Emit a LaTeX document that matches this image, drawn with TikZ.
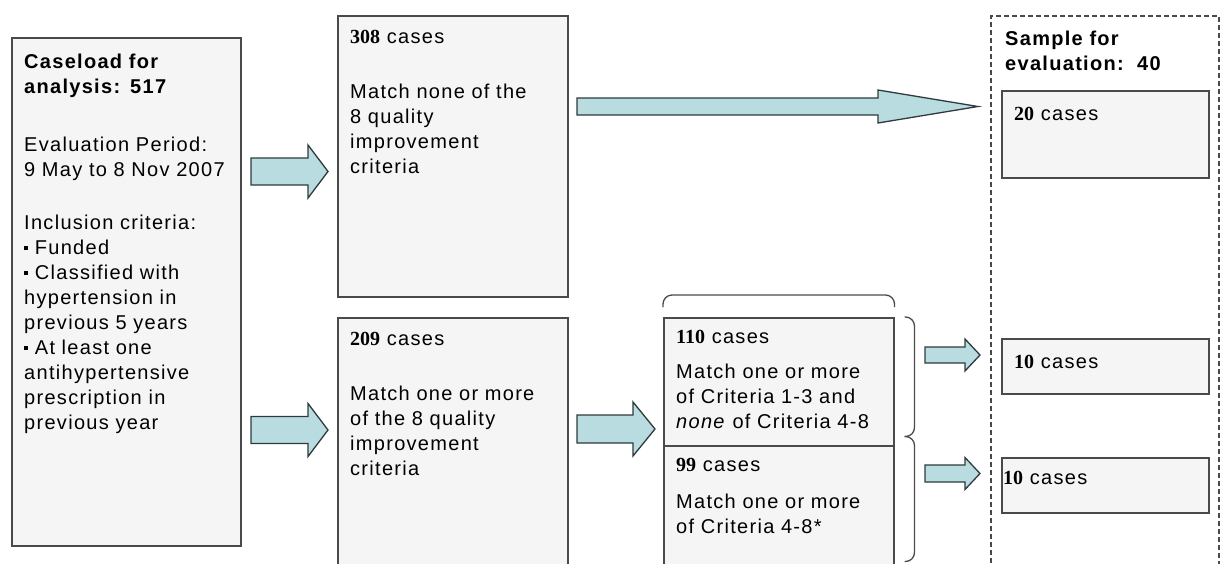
\documentclass[tikz,border=0pt]{standalone}
\usepackage{fontspec}
\setmainfont{Liberation Sans}[LetterSpace=6.5]
\newfontfamily\numfont{Liberation Serif}
\usetikzlibrary{calc}
\definecolor{boxfill}{HTML}{F5F5F5}
\definecolor{boxline}{HTML}{4A4A4A}
\definecolor{arrowfill}{HTML}{B8DCE0}
\definecolor{arrowline}{HTML}{2E3A3C}
\newcommand{\cnt}[1]{{\numfont\bfseries #1}}
\newcommand{\sq}{\raisebox{4pt}{\rule{4pt}{4pt}}\ }

\begin{document}
\begin{tikzpicture}[x=1pt,y=-1pt,font=\fontsize{20}{25}\selectfont,
    fat/.style n args={3}{draw=arrowline,fill=arrowfill,line width=1.3pt,
      to path={let \p1=(\tikztostart),\p2=(\tikztotarget) in
        (\x1,{\y1+#1pt}) -- ({\x2-#3pt},{\y1+#1pt}) -- ({\x2-#3pt},{\y1+#2pt}) -- (\x2,\y1)
        -- ({\x2-#3pt},{\y1-#2pt}) -- ({\x2-#3pt},{\y1-#1pt}) -- (\x1,{\y1-#1pt}) -- cycle}}]
  \tikzstyle{box}=[rectangle,draw=boxline,fill=boxfill,line width=1.5pt,anchor=north west,inner sep=0pt]
  \tikzstyle{txt}=[anchor=base west,inner sep=0pt,align=left,text width=215pt]
  \tikzstyle{brace}=[draw=boxline,line width=1.3pt,rounded corners=9pt]

  \useasboundingbox (0,0) rectangle (1224,563);

  \node[draw=boxline,dash pattern=on 5pt off 3pt,line width=2pt,anchor=north west,
        minimum width=228pt,minimum height=570pt] (sample) at (990,15) {};

  \node[box,minimum width=229pt,minimum height=508pt] (load) at (11,37) {};
  \node[box,minimum width=230pt,minimum height=281pt] (none) at (337,15) {};
  \node[box,minimum width=230pt,minimum height=260pt] (some) at (337,317) {};
  \node[box,minimum width=230pt,minimum height=128pt] (few)  at (663,317) {};
  \node[box,minimum width=230pt,minimum height=125pt] (many) at (663,445) {};
  \node[box,minimum width=207pt,minimum height=87pt] (s20)  at (1001,90) {};
  \node[box,minimum width=207pt,minimum height=55pt] (s10a) at (1001,338) {};
  \node[box,minimum width=207pt,minimum height=55pt] (s10b) at (1001,457) {};

  \node[txt] (loadtxt) at ($(load.north west)+(13,31)$)
    {\textbf{Caseload for}\\\textbf{analysis: 517}\\[33pt]
     Evaluation Period:\\9 May to 8 Nov 2007\\[28pt]
     Inclusion criteria:\\\sq Funded\\\sq Classified with\\hypertension in\\
     previous 5 years\\\sq At least one\\antihypertensive\\prescription in\\previous year};
  \node[txt] (nonetxt) at ($(none.north west)+(13,28)$)
    {\cnt{308} cases\\[30pt]Match none of the\\8 quality\\improvement\\criteria};
  \node[txt] (sometxt) at ($(some.north west)+(13,28)$)
    {\cnt{209} cases\\[30pt]Match one or more\\of the 8 quality\\improvement\\criteria};
  \node[txt] (fewtxt) at ($(few.north west)+(13,26)$)
    {\cnt{110} cases\\[10pt]Match one or more\\of Criteria 1-3 and\\\textit{none} of Criteria 4-8};
  \node[txt] (manytxt) at ($(many.north west)+(13,26)$)
    {\cnt{99} cases\\[12pt]Match one or more\\of Criteria 4-8*};
  \node[txt] (sampletxt) at ($(sample.north west)+(15,30)$)
    {\textbf{Sample for}\\\textbf{evaluation:\ \ 40}};
  \node[txt] (s20txt) at ($(s20.north west)+(13,30)$) {\cnt{20} cases};
  \node[txt] (s10atxt) at ($(s10a.north west)+(13,30)$) {\cnt{10} cases};
  \node[txt] (s10btxt) at ($(s10b.north west)+(2,27)$) {\cnt{10} cases};

  % arrow ends
  \coordinate (a1s) at (251,171.5);  \coordinate (a1t) at (328,171.5);
  \coordinate (a2s) at (251,430);    \coordinate (a2t) at (328,430);
  \coordinate (a3s) at (577,106.5);  \coordinate (a3t) at (978,106.5);
  \coordinate (a4s) at (577,429);    \coordinate (a4t) at (655,429);
  \coordinate (a5s) at (925,355);    \coordinate (a5t) at (980,355);
  \coordinate (a6s) at (925,473.5);  \coordinate (a6t) at (980,473.5);

  \path (a1s) edge[fat={13.5}{26.5}{20}] (a1t)
        (a2s) edge[fat={13.5}{26.5}{20}] (a2t)
        (a3s) edge[fat={8.5}{16.5}{100}] (a3t)
        (a4s) edge[fat={14}{27}{22}] (a4t)
        (a5s) edge[fat={8}{16}{15}] (a5t)
        (a6s) edge[fat={8.5}{16}{15}] (a6t);

  \draw[brace] ($(few.north west)+(0,-10)$) -- ($(few.north west)+(0,-22)$)
     -- ($(few.north east)+(0,-22)$) -- ($(few.north east)+(0,-10)$);
  \draw[brace] ($(few.north east)+(10,0)$) -- ($(few.north east)+(20,0)$)
     -- ($(few.south east)+(20,-10)$) -- ($(few.south east)+(10,-10)$);
  \draw[brace] ($(few.south east)+(10,-10)$) -- ($(few.south east)+(20,-10)$)
     -- ($(many.south east)+(20,-10)$) -- ($(many.south east)+(10,-10)$);
\end{tikzpicture}
\end{document}
